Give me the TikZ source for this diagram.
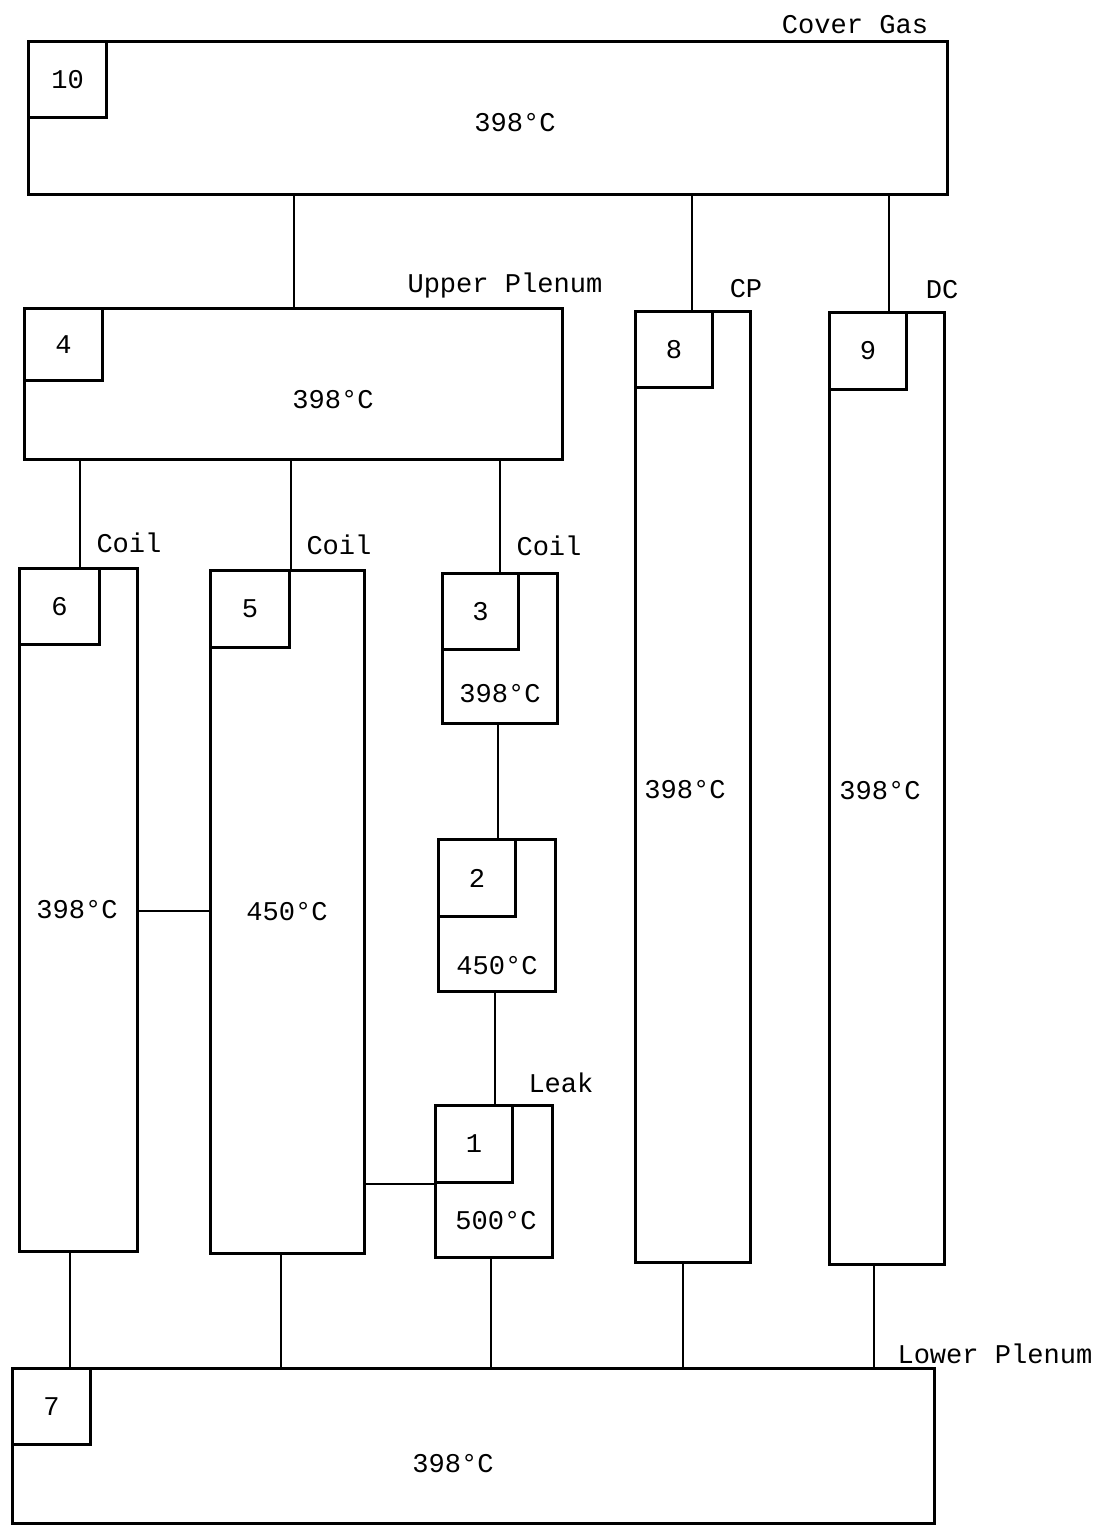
\documentclass[tikz,border=0pt]{standalone}
\usepackage{fontspec}
\setmainfont{Liberation Mono}
\usepackage{tikz}
\usetikzlibrary{positioning}

\begin{document}
\begin{tikzpicture}[
  x=0.01cm, y=-0.01cm,
  vessel/.style={rectangle, draw, line width=0.85pt, inner sep=0pt, anchor=north west},
  tag/.style={rectangle, draw, line width=0.85pt, inner sep=0pt, anchor=north west,
    minimum width=0.78cm, minimum height=0.76cm, font=\fontsize{7.7}{9}\selectfont},
  tempnote/.style={font=\fontsize{7.7}{9}\selectfont},
  caption/.style={font=\fontsize{7.7}{9}\selectfont},
  pipe/.style={draw, line width=0.65pt}
]
  \useasboundingbox (0,0) rectangle (1101,1526);

  % volumes
  \node[vessel, minimum width=9.18cm, minimum height=1.53cm] (v10) at (27,40) {};
  \node[vessel, minimum width=5.38cm, minimum height=1.51cm] (v4) at (23,307) {};
  \node[vessel, minimum width=1.15cm, minimum height=9.50cm] (v8) at (634,310) {};
  \node[vessel, minimum width=1.15cm, minimum height=9.51cm] (v9) at (828,311) {};
  \node[vessel, minimum width=1.18cm, minimum height=6.83cm] (v6) at (18,567) {};
  \node[vessel, minimum width=1.54cm, minimum height=6.83cm] (v5) at (209,569) {};
  \node[vessel, minimum width=1.15cm, minimum height=1.50cm] (v3) at (441,572) {};
  \node[vessel, minimum width=1.17cm, minimum height=1.52cm] (v2) at (437,838) {};
  \node[vessel, minimum width=1.17cm, minimum height=1.52cm] (v1) at (434,1104) {};
  \node[vessel, minimum width=9.21cm, minimum height=1.55cm] (v7) at (11,1367) {};

  % numbers
  \node[tag] (t10) at (v10.north west) {10};
  \node[tag, minimum height=0.72cm] (t4) at (v4.north west) {4};
  \node[tag, minimum width=0.77cm] (t8) at (v8.north west) {8};
  \node[tag, minimum width=0.77cm, minimum height=0.77cm] (t9) at (v9.north west) {9};
  \node[tag, minimum width=0.80cm] (t6) at (v6.north west) {6};
  \node[tag, minimum width=0.79cm, minimum height=0.77cm] (t5) at (v5.north west) {5};
  \node[tag, minimum width=0.76cm] (t3) at (v3.north west) {3};
  \node[tag, minimum width=0.77cm, minimum height=0.77cm] (t2) at (v2.north west) {2};
  \node[tag, minimum width=0.77cm, minimum height=0.77cm] (t1) at (v1.north west) {1};
  \node[tag] (t7) at (v7.north west) {7};

  % temperatures
  \node[tempnote] (c10) at (515,123) {398°C};
  \node[tempnote] (c4) at (333,400) {398°C};
  \node[tempnote] (c8) at (685,790) {398°C};
  \node[tempnote] (c9) at (880,791) {398°C};
  \node[tempnote] (c6) at (77,910) {398°C};
  \node[tempnote] (c5) at (287,912) {450°C};
  \node[tempnote] (c3) at (500,694) {398°C};
  \node[tempnote] (c2) at (497,966) {450°C};
  \node[tempnote] (c1) at (496,1221) {500°C};
  \node[tempnote] (c7) at (453,1464) {398°C};

  % names
  \node[caption] (n10) at (855,25) {Cover Gas};
  \node[caption] (n4) at (505,285) {Upper Plenum};
  \node[caption] (n8) at (746,289) {CP};
  \node[caption] (n9) at (942,290) {DC};
  \node[caption] (n6) at (129,543) {Coil};
  \node[caption] (n5) at (339,545) {Coil};
  \node[caption] (n3) at (549,546) {Coil};
  \node[caption] (n1) at (561,1083) {Leak};
  \node[caption] (n7) at (995,1354) {Lower Plenum};

  % junctions
  \draw[pipe] (294,0 |- v10.south) -- (294,0 |- v4.north);
  \draw[pipe] (692,0 |- v10.south) -- (692,0 |- v8.north);
  \draw[pipe] (889,0 |- v10.south) -- (889,0 |- v9.north);
  \draw[pipe] (80,0 |- v4.south) -- (80,0 |- v6.north);
  \draw[pipe] (t5.east |- v4.south) -- (t5.north east);
  \draw[pipe] (500,0 |- v4.south) -- (500,0 |- v3.north);
  \draw[pipe] (498,0 |- v3.south) -- (498,0 |- v2.north);
  \draw[pipe] (495,0 |- v2.south) -- (495,0 |- v1.north);
  \draw[pipe] (v6.east |- 0,911) -- (v5.west |- 0,911);
  \draw[pipe] (v5.east |- t1.south) -- (t1.south west);
  \draw[pipe] (70,0 |- v6.south) -- (70,0 |- v7.north);
  \draw[pipe] (281,0 |- v5.south) -- (281,0 |- v7.north);
  \draw[pipe] (491,0 |- v1.south) -- (491,0 |- v7.north);
  \draw[pipe] (683,0 |- v8.south) -- (683,0 |- v7.north);
  \draw[pipe] (874,0 |- v9.south) -- (874,0 |- v7.north);
\end{tikzpicture}
\end{document}
